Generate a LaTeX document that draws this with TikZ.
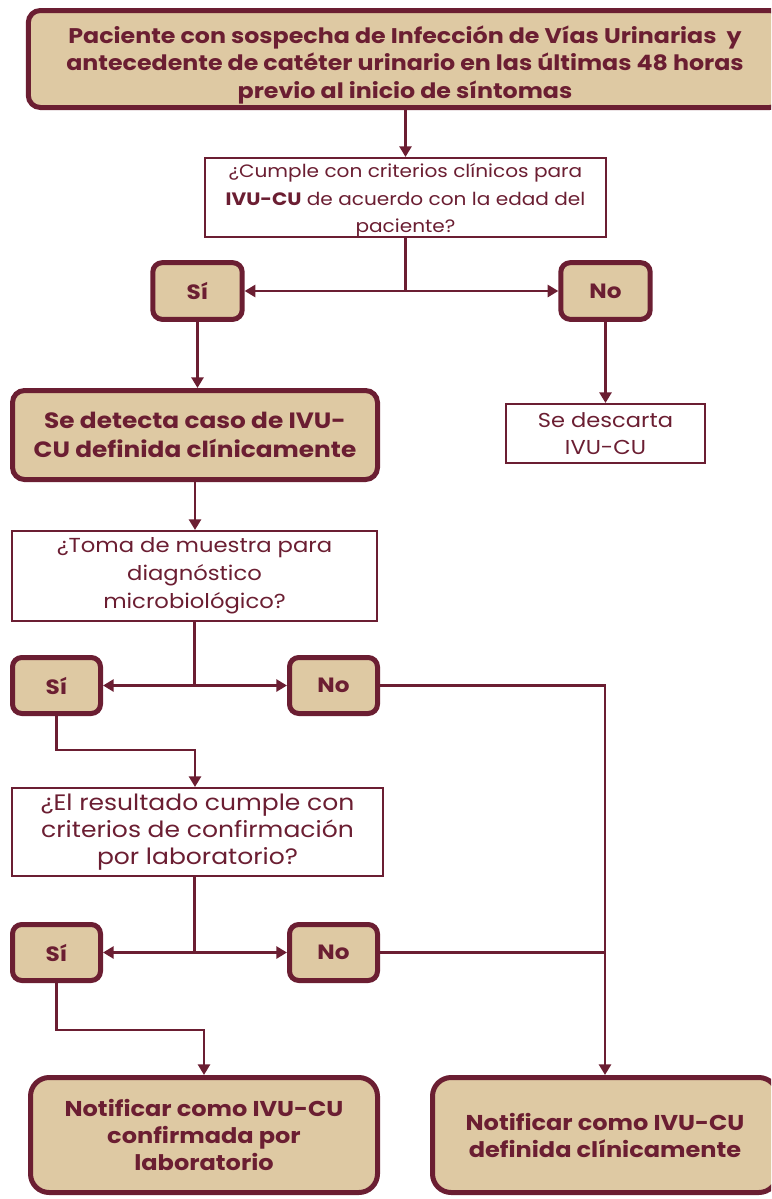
\documentclass[tikz,border=0pt]{standalone}
\usepackage{fontspec}
\setmainfont[FakeStretch=1.12]{Poppins}
\usetikzlibrary{arrows.meta}
\definecolor{guinda}{HTML}{6B1E32}
\definecolor{arena}{HTML}{DEC9A3}
\tikzset{
  thickbox/.style={draw=guinda, fill=arena, line width=3.75pt, rounded corners=9pt,
    align=center, text=guinda, inner sep=0pt},
  thinbox/.style={draw=guinda, fill=white, line width=1.5pt,
    align=center, text=guinda, inner sep=0pt},
  choice/.style={thickbox, rounded corners=7pt, minimum width=67pt, minimum height=42.5pt,
    font=\bfseries\fontsize{15.5}{18}\selectfont},
  link/.style={draw=guinda, line width=2.2pt},
  arr/.style={link, -{Triangle[length=8pt,width=9pt]}}
}
\begin{document}
\begin{tikzpicture}[x=0.75pt,y=-0.75pt]
\useasboundingbox (0,0) rectangle (771,1199);
\clip (0,0) rectangle (771,1199);

% start box
\node[thickbox, minimum width=565pt, minimum height=72.75pt,
  font=\bfseries\fontsize{15.9}{20.6}\selectfont] (start) at (405,59)
  {\rule{0pt}{22pt}Paciente con sospecha de Infección de Vías Urinarias\ \ y\\
   antecedente de catéter urinario en las últimas 48 horas\\
   previo al inicio de síntomas};

% first question
\node[thinbox, minimum width=300.75pt, minimum height=57.75pt,
  font=\fontsize{13.45}{20.4}\selectfont] (q1) at (405.5,197.5)
  {\rule{0pt}{15pt}¿Cumple con criterios clínicos para\\
   \textbf{IVU-CU} de acuerdo con la edad del\\
   paciente?};

\node[choice] (si1) at (197.5,291) {Sí};
\node[choice] (no1) at (605.5,291) {No};

\node[thinbox, minimum width=149.25pt, minimum height=44.25pt,
  font=\fontsize{15.1}{20.25}\selectfont] (desc) at (605.5,433.5)
  {Se descarta\\IVU-CU};

\node[thickbox, minimum width=273.75pt, minimum height=66.75pt,
  font=\bfseries\fontsize{16.6}{21.75}\selectfont] (det) at (195,435)
  {Se detecta caso de IVU-\\CU definida clínicamente};

% second question
\node[thinbox, minimum width=273.75pt, minimum height=67.5pt,
  font=\fontsize{15.2}{21}\selectfont] (q2) at (194.5,576)
  {¿Toma de muestra para\\diagnóstico\\microbiológico?};

\node[choice, minimum width=66pt, minimum height=42pt] (si2) at (56.5,685.5) {Sí};
\node[choice, minimum width=66pt, minimum height=42pt] (no2) at (333.5,685.5) {No};

% third question
\node[thinbox, minimum width=278.25pt, minimum height=66pt,
  font=\fontsize{16.75}{20.5}\selectfont] (q3) at (197.5,832)
  {¿El resultado cumple con\\criterios de confirmación\\por laboratorio?};

\node[choice, minimum width=66pt, minimum height=42pt] (si3) at (56.5,952.5) {Sí};
\node[choice, minimum width=66pt, minimum height=42pt] (no3) at (333.5,952.5) {No};

% outcomes
\node[thickbox, rounded corners=14pt, minimum width=260.25pt, minimum height=86.25pt,
  font=\bfseries\fontsize{16.1}{20.25}\selectfont] (conf) at (204,1135)
  {Notificar como IVU-CU\\confirmada por\\laboratorio};
\node[thickbox, rounded corners=14pt, minimum width=258.75pt, minimum height=86.25pt,
  font=\bfseries\fontsize{16.1}{20.25}\selectfont] (clin) at (605,1135)
  {Notificar como IVU-CU\\definida clínicamente};

% connectors
\draw[arr] (start.south -| q1.north) -- (q1.north);
\coordinate (j1) at (q1.south |- si1.east);
\draw[link] (q1.south) -- (j1);
\draw[arr] (j1) -- (si1.east);
\draw[arr] (j1) -- (no1.west);
\draw[arr] (si1.south) -- (si1.south |- det.north);
\draw[arr] (no1.south) -- (no1.south |- desc.north);
\draw[arr] (det.south) -- (det.south |- q2.north);

\coordinate (j2) at (q2.south |- si2.east);
\draw[link] (q2.south) -- (j2);
\draw[arr] (j2) -- (si2.east);
\draw[arr] (j2) -- (no2.west);
\draw[arr] (si2.south) -- ++(0,34) -| (det.south |- q3.north);
\draw[arr] (no2.east) -| (clin.north);

\coordinate (j3) at (q2.south |- si3.east);
\draw[link] (q2.south |- q3.south) -- (j3);
\draw[arr] (j3) -- (si3.east);
\draw[arr] (j3) -- (no3.west);
\draw[link] (no3.east) -- (no3.east -| clin.north);
\draw[arr] (si3.south) -- ++(0,47) -| (conf.north);
\end{tikzpicture}
\end{document}
